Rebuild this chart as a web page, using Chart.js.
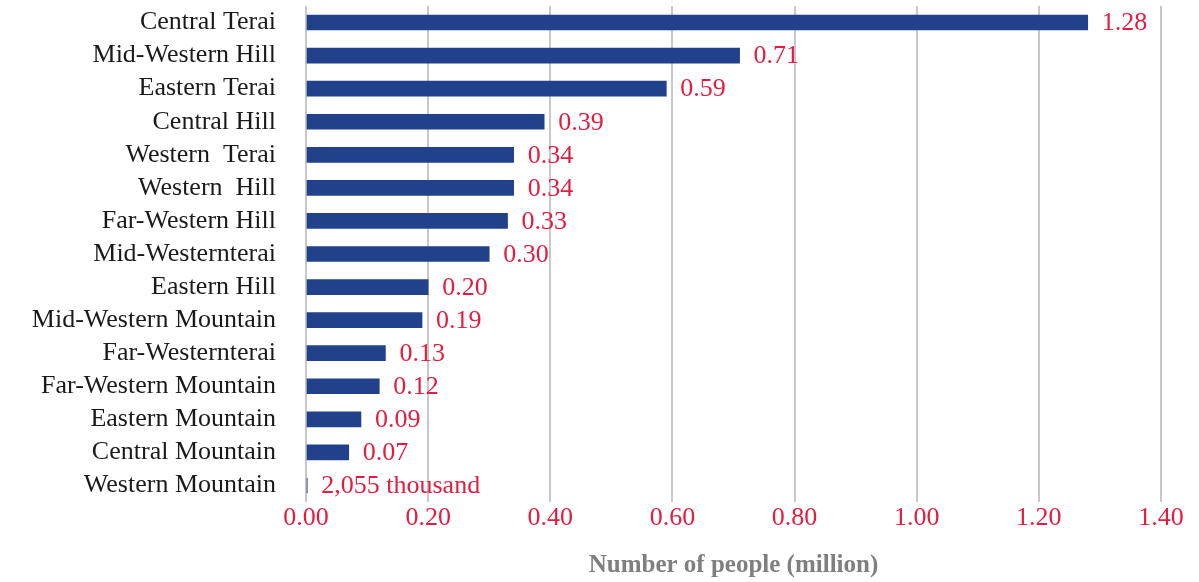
<!DOCTYPE html>
<html>
<head>
<meta charset="utf-8">
<script src="https://cdn.jsdelivr.net/npm/chart.js@4/dist/chart.umd.min.js"></script>
<style>
  html, body { margin: 0; padding: 0; background: #fff; }
  #wrap { width: 1199px; height: 582px; }
</style>
</head>
<body>
<div id="wrap"><canvas id="chart"></canvas></div>
<script>
const regions = [
  "Central Terai", "Mid-Western Hill", "Eastern Terai", "Central Hill",
  "Western  Terai", "Western  Hill", "Far-Western Hill", "Mid-Westernterai",
  "Eastern Hill", "Mid-Western Mountain", "Far-Westernterai",
  "Far-Western Mountain", "Eastern Mountain", "Central Mountain", "Western Mountain"
];
// million people
const people = [1.28, 0.71, 0.59, 0.39, 0.34, 0.34, 0.33, 0.30, 0.20, 0.19, 0.13, 0.12, 0.09, 0.07, 0.002055];
const valueLabels = ["1.28", "0.71", "0.59", "0.39", "0.34", "0.34", "0.33", "0.30",
  "0.20", "0.19", "0.13", "0.12", "0.09", "0.07", "2,055 thousand"];

const FONT = "'Liberation Serif', 'DejaVu Serif', serif";
const RED = "#e21d3f";

// write the value to the right of each bar
const barLabels = {
  id: "barLabels",
  afterDatasetsDraw(chart) {
    const ctx = chart.ctx;
    const meta = chart.getDatasetMeta(0);
    ctx.save();
    ctx.font = "26px " + FONT;
    ctx.fillStyle = RED;
    ctx.textAlign = "left";
    ctx.textBaseline = "middle";
    meta.data.forEach((bar, i) => {
      ctx.fillText(valueLabels[i], bar.x + 14, bar.y + 1);
    });
    ctx.restore();
  }
};

const ctx = document.getElementById("chart").getContext("2d");
const chart = new Chart(ctx, {
  type: "bar",
  data: {
    labels: regions,
    datasets: [{
      data: people,
      backgroundColor: "#21428a",
      borderWidth: 0,
      barThickness: 15
    }]
  },
  options: {
    indexAxis: "y",
    responsive: true,
    maintainAspectRatio: false,
    animation: false,
    layout: { padding: { top: 6, right: 38, left: 0, bottom: 0 } },
    plugins: { legend: { display: false }, tooltip: { enabled: false } },
    scales: {
      x: {
        min: 0,
        max: 1.4,
        ticks: {
          stepSize: 0.2,
          color: RED,
          padding: 1,
          font: { family: FONT, size: 26 },
          callback: (v) => Number(v).toFixed(2)
        },
        grid: { color: "#c8c8c8", lineWidth: 2, drawTicks: false },
        border: { display: false },
        title: {
          display: true,
          text: "Number of people (million)",
          color: "#7f7f7f",
          font: { family: FONT, size: 25, weight: "bold" },
          padding: { top: 0, bottom: 1 }
        },
        afterFit: (s) => { s.height = 80; }
      },
      y: {
        ticks: {
          color: "#1a1a1a",
          padding: 30,
          autoSkip: false,
          font: { family: FONT, size: 26 }
        },
        grid: { display: false, drawTicks: false },
        border: { display: false },
        afterFit: (s) => {
          s.width = 306;
          // the label gap should not push the plot area down
          s.paddingTop = 0;
          s.paddingBottom = 0;
        }
      }
    }
  },
  plugins: [barLabels]
});
</script>
</body>
</html>
